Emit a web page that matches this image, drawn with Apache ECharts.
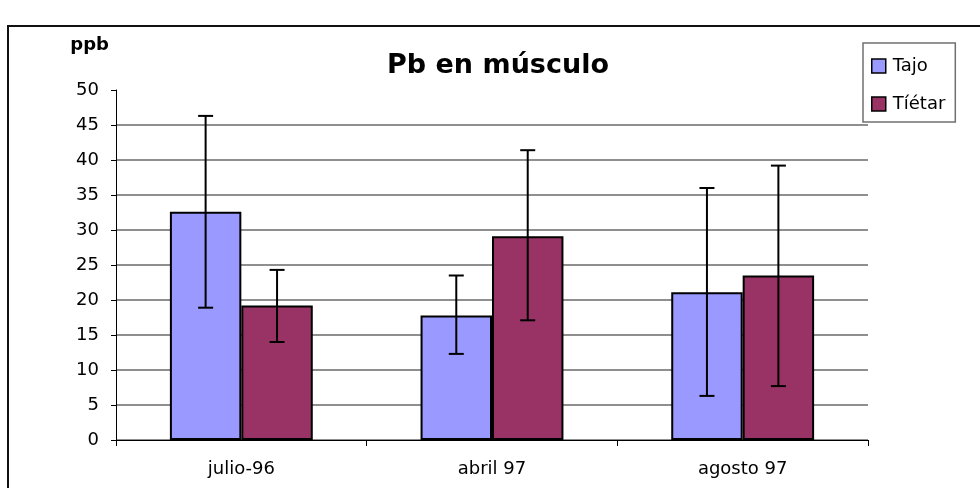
<!DOCTYPE html>
<html>
<head>
<meta charset="utf-8">
<script src="https://cdn.jsdelivr.net/npm/echarts@6/dist/echarts.min.js"></script>
<style>
  html, body { margin: 0; padding: 0; background: #fff; }
  #chart { width: 980px; height: 488px; }
</style>
</head>
<body>
<div id="chart"></div>
<script>
// Sampling dates
const categories = ['julio-96', 'abril 97', 'agosto 97'];

// Mean lead concentration in muscle (ppb)
const tajo = [32.6, 17.8, 21.1];
const tietar = [19.2, 29.1, 23.5];

// Error bar extents (ppb)
const tajoLow = [18.9, 12.3, 6.3];
const tajoHigh = [46.3, 23.5, 36.0];
const tietarLow = [14.0, 17.1, 7.7];
const tietarHigh = [24.3, 41.4, 39.2];

// Y axis ticks
const yMin = 0, yMax = 50, yStep = 5;

const FONT = 'DejaVu Sans';
const BAR_FRACTION = 0.285;

function errorData(low, high) {
  return categories.map((c, i) => [i, low[i], high[i]]);
}

// Draws a vertical whisker with caps, centred on one of the two bars of a category
function errorRenderer(side) {
  return function (params, api) {
    const idx = api.value(0);
    const lo = api.coord([idx, api.value(1)]);
    const hi = api.coord([idx, api.value(2)]);
    const band = api.size([1, 0])[0];
    const barW = band * BAR_FRACTION;
    const x = lo[0] + side * barW / 2;
    const cap = 7.5;
    const style = { stroke: '#000', lineWidth: 2 };
    return {
      type: 'group',
      children: [
        { type: 'line', shape: { x1: x, y1: hi[1], x2: x, y2: lo[1] }, style },
        { type: 'line', shape: { x1: x - cap, y1: hi[1], x2: x + cap, y2: hi[1] }, style },
        { type: 'line', shape: { x1: x - cap, y1: lo[1], x2: x + cap, y2: lo[1] }, style }
      ]
    };
  };
}

// Grid lines for every tick except the top one
const tickCount = Math.round((yMax - yMin) / yStep) + 1;
const splitColors = [];
for (let i = 0; i < tickCount; i++) {
  splitColors.push(i === tickCount - 1 ? 'rgba(0,0,0,0)' : '#6a6a6a');
}

const chart = echarts.init(document.getElementById('chart'), null, { renderer: 'canvas' });

chart.setOption({
  backgroundColor: '#ffffff',
  animation: false,
  textStyle: { fontFamily: FONT, color: '#000' },
  graphic: [
    {
      type: 'rect',
      silent: true,
      z: -10,
      shape: { x: 8, y: 26, width: 1200, height: 1000 },
      style: { fill: 'none', stroke: '#111', lineWidth: 2 }
    }
  ],
  title: {
    text: 'Pb en músculo',
    left: 493,
    top: 47,
    textAlign: 'center',
    textStyle: { fontFamily: FONT, fontSize: 27, fontWeight: 'bold', color: '#000' }
  },
  legend: {
    data: ['Tajo', 'Tíétar'],
    orient: 'vertical',
    left: 863,
    top: 43,
    padding: [14, 10, 9, 8],
    itemGap: 20,
    itemWidth: 14,
    itemHeight: 14,
    icon: 'rect',
    backgroundColor: '#fff',
    borderColor: '#707070',
    borderWidth: 1.5,
    borderRadius: 0,
    itemStyle: { borderColor: '#000', borderWidth: 1.5 },
    textStyle: { fontFamily: FONT, fontSize: 18, lineHeight: 18, color: '#000', padding: [0, 0, 0, 2] }
  },
  grid: { left: 116, right: 112, top: 90, bottom: 48 },
  xAxis: {
    type: 'category',
    data: categories,
    boundaryGap: true,
    axisLine: { show: true, lineStyle: { color: '#000', width: 1 } },
    axisTick: { show: true, length: 6, lineStyle: { color: '#000' } },
    axisLabel: { fontFamily: FONT, fontSize: 18, color: '#000', margin: 20 },
    splitLine: { show: false }
  },
  yAxis: {
    type: 'value',
    min: yMin,
    max: yMax,
    interval: yStep,
    name: 'ppb',
    nameLocation: 'end',
    nameGap: 36,
    nameTextStyle: { fontFamily: FONT, fontSize: 18, fontWeight: 'bold', color: '#000', align: 'right', padding: [0, 7, 0, 0] },
    axisLine: { show: true, lineStyle: { color: '#000', width: 1 } },
    axisTick: { show: true, length: 5, lineStyle: { color: '#000' } },
    axisLabel: { fontFamily: FONT, fontSize: 18, color: '#000', margin: 17 },
    splitLine: { show: true, lineStyle: { color: splitColors, width: 1.5 } }
  },
  series: [
    {
      name: 'Tajo',
      type: 'bar',
      data: tajo,
      barWidth: (BAR_FRACTION * 100) + '%',
      barGap: '0%',
      itemStyle: { color: '#9999FF', borderColor: '#000', borderWidth: 2 },
      z: 2
    },
    {
      name: 'Tíétar',
      type: 'bar',
      data: tietar,
      barWidth: (BAR_FRACTION * 100) + '%',
      barGap: '0%',
      itemStyle: { color: '#993366', borderColor: '#000', borderWidth: 2 },
      z: 2
    },
    {
      name: 'Tajo error',
      type: 'custom',
      renderItem: errorRenderer(-1),
      data: errorData(tajoLow, tajoHigh),
      encode: { x: 0, y: [1, 2] },
      z: 5,
      silent: true
    },
    {
      name: 'Tíétar error',
      type: 'custom',
      renderItem: errorRenderer(1),
      data: errorData(tietarLow, tietarHigh),
      encode: { x: 0, y: [1, 2] },
      z: 5,
      silent: true
    }
  ]
});
</script>
</body>
</html>
